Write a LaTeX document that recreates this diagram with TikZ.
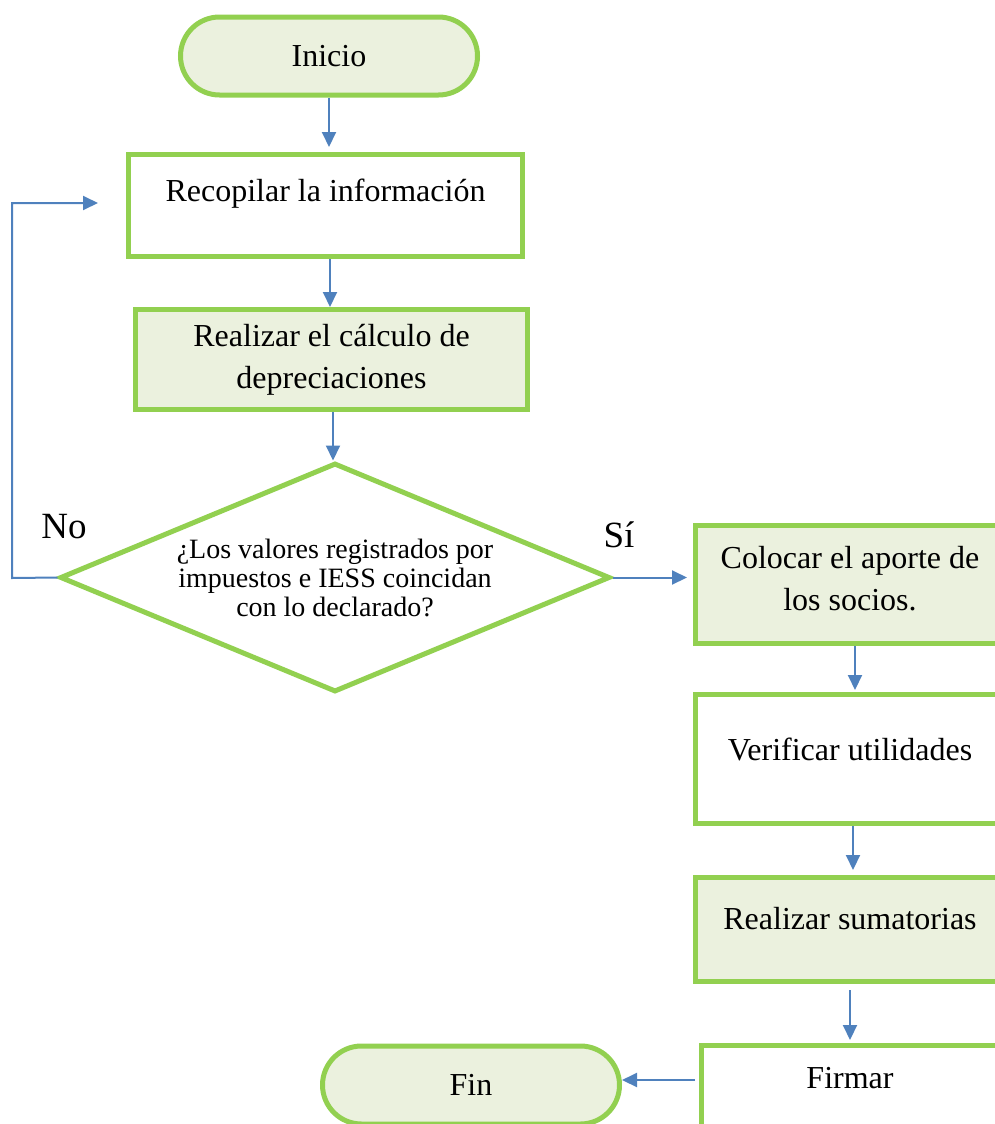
\documentclass[tikz,border=0pt]{standalone}
\usepackage{fontspec}
\setmainfont{Liberation Serif}
\usetikzlibrary{shapes.geometric,arrows.meta}
\definecolor{flowgreen}{HTML}{92D050}
\definecolor{flowfill}{HTML}{EBF1DE}
\definecolor{flowblue}{HTML}{4F81BD}
\begin{document}
\begin{tikzpicture}[x=0.5pt,y=-0.5pt,
  every node/.style={inner sep=0pt},
  terminal/.style={draw=flowgreen, line width=2.5pt, fill=flowfill,
    rounded corners=19.5pt, minimum width=148.5pt, minimum height=39pt},
  procbox/.style={draw=flowgreen, line width=2.5pt, fill=white},
  procfill/.style={procbox, fill=flowfill},
  decision/.style={draw=flowgreen, line width=2.5pt, fill=white, shape=diamond,
    minimum width=275pt, minimum height=114.5pt},
  maintext/.style={font=\fontsize{16pt}{21pt}\selectfont, align=center},
  smalltext/.style={font=\fontsize{14pt}{14.4pt}\selectfont, align=center},
  branchtext/.style={font=\fontsize{18.5pt}{22pt}\selectfont},
  arr/.style={draw=flowblue, line width=1pt, -{Triangle[length=7.5pt,width=7pt]}}
]
\useasboundingbox (0,0) rectangle (995,1124);
\clip (0,0) rectangle (995,1124);

% left column
\node[terminal, maintext] (start) at (329,56) {Inicio};
\node[procbox, minimum width=197pt, minimum height=51pt] (collect) at (325.5,205.5) {};
\node[maintext] (collectT) at (325.5,194) {Recopilar la información};
\node[procfill, maintext, minimum width=196pt, minimum height=50pt] (calc) at (331.5,359.5)
  {Realizar el cálculo de\\depreciaciones};
\node[decision] (check) at (335,577.5) {};
\node[smalltext] (checkT) at (335,578)
  {¿Los valores registrados por\\impuestos e IESS coincidan\\con lo declarado?};
\node[branchtext] (noT) at (64,527) {No};
\node[branchtext] (siT) at (619,535) {Sí};

% right column
\node[procfill, minimum width=154.5pt, minimum height=59pt] (partners) at (850,584.5) {};
\node[maintext] (partnersT) at (850,579) {Colocar el aporte de\\los socios.};
\node[procbox, minimum width=155pt, minimum height=64.5pt] (verify) at (850,759) {};
\node[maintext] (verifyT) at (850,749) {Verificar utilidades};
\node[procfill, minimum width=155pt, minimum height=52pt] (sums) at (850,929.5) {};
\node[maintext] (sumsT) at (850,919) {Realizar sumatorias};
\node[procbox, minimum width=148.5pt, minimum height=55pt] (sign) at (850,1100.5) {};
\node[maintext] (signT) at (850,1078) {Firmar};
\node[terminal, maintext] (finish) at (471,1085) {Fin};

% connectors
\coordinate (loopCorner) at (12,578);
\coordinate (loopEnd) at (98,203);
\draw[arr, shorten >=2.5pt] (start.south) -- (start.south |- collect.north);
\draw[arr] ([xshift=2.25pt]collect.south) -- ([xshift=2.25pt]collect.south |- calc.north);
\draw[arr] ([xshift=0.75pt]calc.south) -- ([xshift=0.75pt]calc.south |- check.north);
\draw[arr] (check.west) -- (loopCorner) |- (loopEnd);
\draw[arr, shorten >=3pt] (check.east) -- (check.east -| partners.west);
\draw[arr, shorten >=1pt] ([xshift=2.5pt]partners.south) -- ([xshift=2.5pt]partners.south |- verify.north);
\draw[arr, shorten >=2.5pt] ([xshift=1.5pt]verify.south) -- ([xshift=1.5pt]verify.south |- sums.north);
\draw[arr, shorten <=3pt, shorten >=1.5pt] (sums.south) -- (sums.south |- sign.north);
\draw[arr, shorten <=2pt] ([yshift=2.5pt]sign.west |- finish.east) -- ([yshift=2.5pt]finish.east);
\end{tikzpicture}
\end{document}
